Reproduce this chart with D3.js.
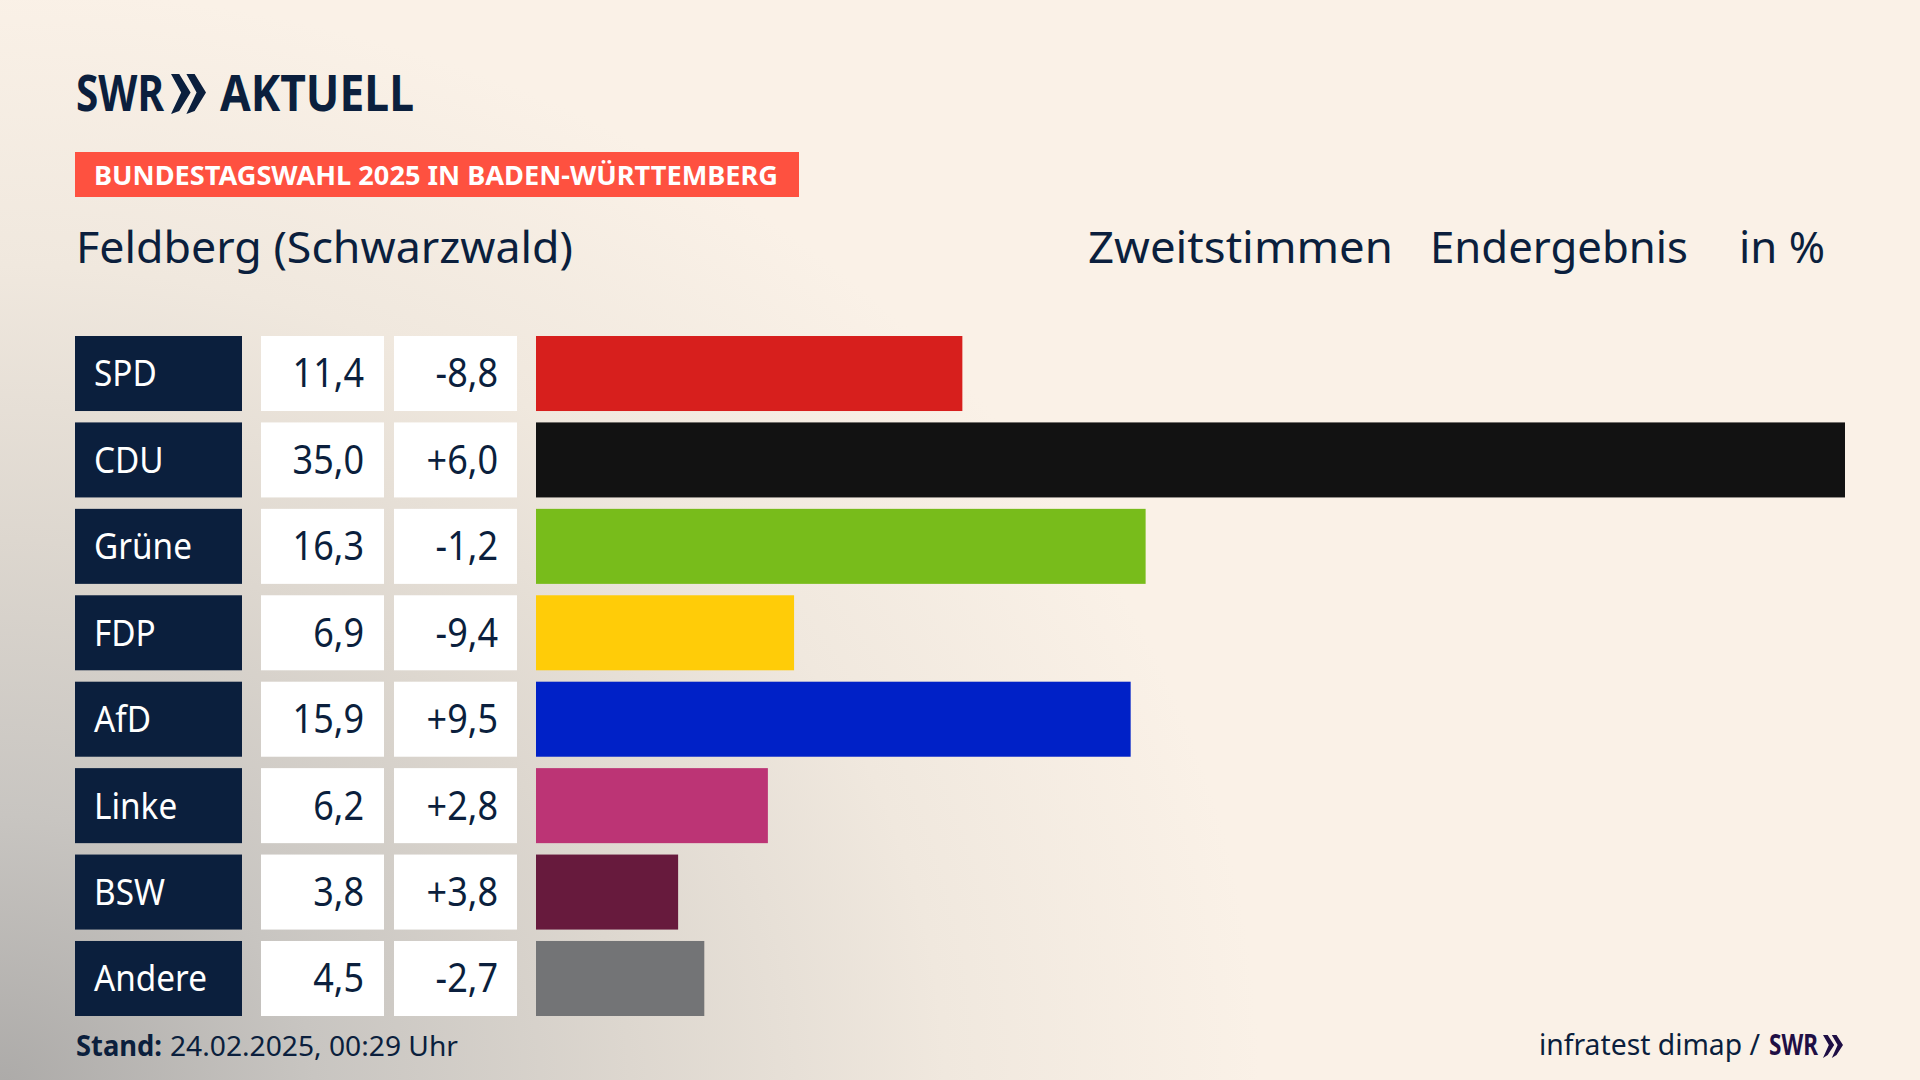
<!DOCTYPE html>
<html lang="de"><head><meta charset="utf-8">
<script src="https://cdn.jsdelivr.net/npm/d3@7"></script>
<style>html,body{margin:0;padding:0;background:#faf1e7;overflow:hidden}svg{display:block}text{font-family:"Noto Sans",sans-serif}</style>
</head><body><div id="c"></div>
<script>
const parties=["SPD","CDU","Grüne","FDP","AfD","Linke","BSW","Andere"];
const shares=[11.4,35.0,16.3,6.9,15.9,6.2,3.8,4.5];
const changes=["-8,8","+6,0","-1,2","-9,4","+9,5","+2,8","+3,8","-2,7"];
const colours=["#d71f1d","#121212","#78bc1b","#ffcc08","#0021c7","#bc3475","#671a3d","#737476"];
const NAVY="#0b1f3d",W=1920,H=1080;
const fmt=v=>v.toFixed(1).replace(".",",");
const svg=d3.select("#c").append("svg").attr("width",W).attr("height",H).attr("viewBox",`0 0 ${W} ${H}`);
const defs=svg.append("defs");
const g=defs.append("radialGradient").attr("id","bg").attr("gradientUnits","userSpaceOnUse")
 .attr("cx",0).attr("cy",0).attr("r",1).attr("gradientTransform","translate(0 1090) scale(1260 1100)");
[[0,"#acaaa8"],[.25,"#c8c5c1"],[.5,"#ddd7cf"],[.75,"#f0e8de"],[1,"#faf1e7"]].forEach(s=>g.append("stop").attr("offset",s[0]).attr("stop-color",s[1]));
svg.append("rect").attr("width",W).attr("height",H).attr("fill","#faf1e7");
svg.append("rect").attr("width",W).attr("height",H).attr("fill","url(#bg)");

const x=d3.scaleLinear().domain([0,35]).range([536,1845]);
const y=d3.scaleBand().domain(parties).range([336,1016]).paddingInner(.132);
const bw=y.bandwidth();

function txt(sel,s,px,py,size,fill,width,opts={}){
  const t=sel.append("text").attr("x",px).attr("y",py).attr("font-size",size).attr("fill",fill).text(s);
  if(width){t.attr("textLength",width).attr("lengthAdjust","spacingAndGlyphs");}
  if(opts.weight)t.attr("font-weight",opts.weight);
  if(opts.anchor)t.attr("text-anchor",opts.anchor);
  return t;
}
function chevrons(sel,x0,top,h,w,fill){
  const cw=w*.56,step=w-cw;
  [0,step].forEach(dx=>{
    const a=x0+dx,m=top+h/2,b=top+h;
    sel.append("path").attr("fill",fill)
     .attr("d",`M${a} ${top}L${a+cw*.42} ${top}L${a+cw} ${m}L${a+cw*.42} ${b}L${a} ${b+3}L${a+cw*.52} ${m}Z`);
  });
}
// header
txt(svg,"SWR",76,111,50,NAVY,88,{weight:700});
chevrons(svg,171,74,37,35,NAVY);
txt(svg,"AKTUELL",220,111,50,NAVY,194,{weight:700});
svg.append("rect").attr("x",75).attr("y",152).attr("width",724).attr("height",45).attr("fill","#fe5140");
txt(svg,"BUNDESTAGSWAHL 2025 IN BADEN-WÜRTTEMBERG",94,185,27,"#fff",684,{weight:700});
txt(svg,"Feldberg (Schwarzwald)",76,263,44,NAVY,497);
txt(svg,"Zweitstimmen",1088,263,44,NAVY,305);
txt(svg,"Endergebnis",1430,263,44,NAVY,258);
txt(svg,"in %",1739,263,44,NAVY,86);

// rows
const rows=svg.selectAll("g.row").data(parties).join("g").attr("class","row").attr("transform",d=>`translate(0,${y(d)})`);
rows.append("rect").attr("x",75).attr("width",167).attr("height",bw).attr("fill",NAVY);
rows.append("rect").attr("x",261).attr("width",123).attr("height",bw).attr("fill","#fff");
rows.append("rect").attr("x",394).attr("width",123).attr("height",bw).attr("fill","#fff");
rows.append("rect").attr("x",x(0)).attr("width",(d,i)=>x(shares[i])-x(0)).attr("height",bw).attr("fill",(d,i)=>colours[i]);
rows.append("text").attr("x",94).attr("y",50.5).attr("font-size",37).attr("fill","#fff").text(d=>d)
  .attr("transform","translate(94,0) scale(.9,1) translate(-94,0)");
rows.append("text").attr("x",364).attr("y",51.5).attr("font-size",40).attr("fill",NAVY).attr("text-anchor","end").text((d,i)=>fmt(shares[i]))
  .attr("transform","translate(364,0) scale(.9,1) translate(-364,0)");
rows.append("text").attr("x",498).attr("y",51.5).attr("font-size",40).attr("fill",NAVY).attr("text-anchor","end").text((d,i)=>changes[i])
  .attr("transform","translate(498,0) scale(.9,1) translate(-498,0)");

// footer
txt(svg,"Stand:",76,1056,28,NAVY,86,{weight:700});
txt(svg,"24.02.2025, 00:29 Uhr",170,1056,28,NAVY,288);
txt(svg,"infratest dimap /",1539,1055,29,NAVY,221);
txt(svg,"SWR",1769,1055,28,"#1f0f45",49,{weight:700});
chevrons(svg,1823,1035,20,20,"#1f0f45");
</script></body></html>
